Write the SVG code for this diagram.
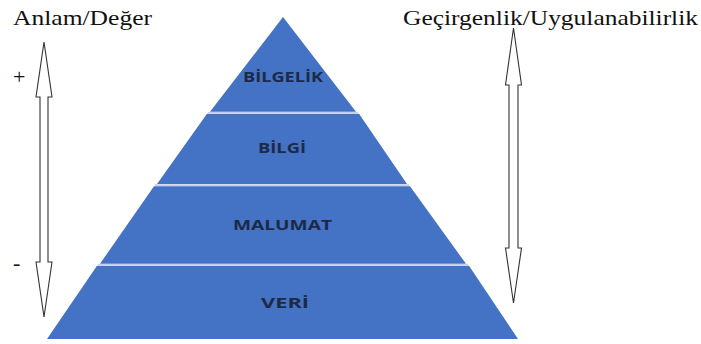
<svg xmlns="http://www.w3.org/2000/svg" width="701" height="344" viewBox="0 0 701 344">
<style>
.tier{fill:#4472c4}
.sep{stroke:#c3d1ec;stroke-width:1.6}
.lbl{font-family:"Open Sans","Noto Sans",sans-serif;font-weight:700;font-size:13.5px;fill:#1c2a48;text-anchor:start}
.ser{font-family:"Liberation Serif","Times New Roman",serif;font-size:22px;fill:#111}
.arr{fill:#fff;stroke:#333;stroke-width:1.1;stroke-linejoin:miter}
</style>
<rect width="701" height="344" fill="#fff"/>
<g id="tier-bilgelik">
<polygon class="tier" points="283,17 356,111.8 210,111.8"/>
<text class="lbl" x="243" y="81.5" textLength="80" lengthAdjust="spacingAndGlyphs">BİLGELİK</text>
</g>
<g id="tier-bilgi">
<polygon class="tier" points="207,113.8 359,113.8 407,184 157,184"/>
<text class="lbl" x="258" y="153.3" textLength="48" lengthAdjust="spacingAndGlyphs">BİLGİ</text>
</g>
<g id="tier-malumat">
<polygon class="tier" points="154,186.2 410,186.2 466,263.8 100,263.8"/>
<text class="lbl" x="233" y="230.3" textLength="99" lengthAdjust="spacingAndGlyphs">MALUMAT</text>
</g>
<g id="tier-veri">
<polygon class="tier" points="97,265.8 469,265.8 518,339 47,339"/>
<text class="lbl" x="261" y="308.3" textLength="48" lengthAdjust="spacingAndGlyphs">VERİ</text>
</g>
<g id="separators">
<line class="sep" x1="208" y1="112.8" x2="358" y2="112.8"/>
<line class="sep" x1="155" y1="185.1" x2="409" y2="185.1"/>
<line class="sep" x1="98" y1="264.8" x2="468" y2="264.8"/>
</g>
<g id="connectors">
<polygon class="arr" points="44,42 52,97 48,97 48,262 52,262 44,317 36,262 40,262 40,97 36,97"/>
<polygon class="arr" points="513.5,28 521.5,85 518,85 518,248 521.5,248 513.5,303 505.5,248 509,248 509,85 505.5,85"/>
</g>
<g id="label-anlam">
<text class="ser" x="13" y="25" textLength="139" lengthAdjust="spacingAndGlyphs">Anlam/Değer</text>
</g>
<g id="label-gecirgenlik">
<text class="ser" x="403" y="25" textLength="295" lengthAdjust="spacingAndGlyphs">Geçirgenlik/Uygulanabilirlik</text>
</g>
<g id="label-plus"><text class="ser" x="13" y="84">+</text></g>
<g id="label-minus"><text class="ser" x="13" y="270">-</text></g>
</svg>
